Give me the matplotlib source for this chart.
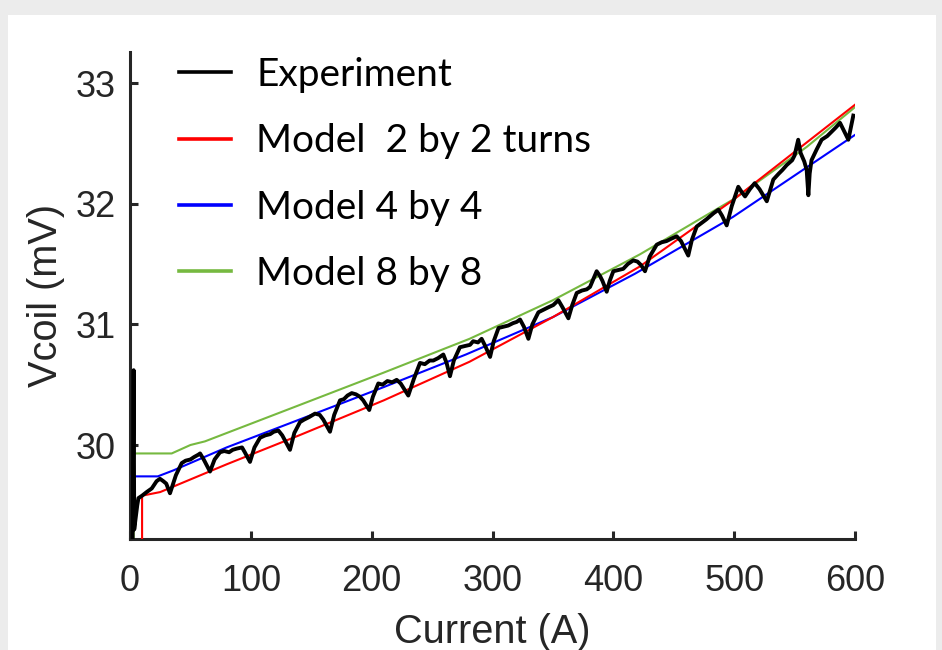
import matplotlib
matplotlib.use("Agg")
import matplotlib.pyplot as plt
from matplotlib.patches import Rectangle

# ---------------- data ----------------
exp_current = [2, 3, 3.5, 6, 7, 10, 13.8, 18, 22, 24.8, 27.6, 30, 33.1, 38, 42.8, 46, 50, 53, 56.6, 58,
               61, 66.2, 70, 74.5, 78, 82, 85, 88.3, 92.7, 95, 99.3, 103, 107.6, 112, 116, 119, 122.8,
               126, 132.4, 136, 140.7, 144, 148, 153.1, 157, 160, 165.5, 169, 173.8, 177, 180, 183.5,
               187, 190.3, 193, 198, 201, 205.5, 209, 213, 217, 220.7, 224, 230.3, 235, 240, 244, 248,
               251, 255, 259.3, 262, 264.8, 268, 273, 277, 281.4, 284, 288, 291, 294, 298, 301, 305,
               309, 313, 317, 320, 322.8, 326, 329.7, 333, 338, 342, 346, 350.3, 354.5, 358, 362.8,
               366, 369.7, 374, 378, 380.7, 386.2, 389, 391, 394.5, 397, 400, 404, 408.2, 412, 416.5,
               420, 423, 426.2, 430, 435.9, 440, 444, 448, 452.4, 456, 462, 465, 469, 473, 477, 482.8,
               487, 490, 493.8, 498, 503.4, 506, 509, 513, 517, 521, 527, 532.4, 537, 540, 543.5, 548,
               550, 553, 555, 558, 560, 561.4, 562.5, 564, 568.3, 572.4, 577, 581, 584, 587.6, 591,
               594.5, 597, 598.6]
exp_voltage = [29.0, 30.62, 29.3, 29.50, 29.56, 29.58, 29.61, 29.64, 29.70, 29.72, 29.70, 29.68, 29.60,
               29.75, 29.85, 29.87, 29.88, 29.90, 29.92, 29.93, 29.88, 29.78, 29.88, 29.94, 29.95, 29.94,
               29.96, 29.97, 29.98, 29.94, 29.86, 29.98, 30.06, 30.08, 30.09, 30.11, 30.12, 30.08, 29.96,
               30.10, 30.19, 30.21, 30.23, 30.26, 30.25, 30.21, 30.11, 30.25, 30.37, 30.38, 30.41, 30.43,
               30.42, 30.40, 30.37, 30.29, 30.40, 30.51, 30.50, 30.53, 30.52, 30.54, 30.51, 30.41, 30.55,
               30.68, 30.67, 30.70, 30.70, 30.72, 30.75, 30.68, 30.57, 30.70, 30.81, 30.82, 30.83, 30.86,
               30.85, 30.88, 30.82, 30.73, 30.86, 30.97, 30.98, 30.99, 31.01, 31.02, 31.04, 30.98, 30.88,
               31.00, 31.10, 31.12, 31.14, 31.16, 31.20, 31.14, 31.05, 31.16, 31.26, 31.28, 31.29, 31.31,
               31.44, 31.40, 31.36, 31.27, 31.36, 31.44, 31.45, 31.46, 31.50, 31.53, 31.52, 31.49, 31.44,
               31.56, 31.66, 31.68, 31.69, 31.71, 31.73, 31.69, 31.57, 31.70, 31.81, 31.84, 31.87, 31.92,
               31.95, 31.90, 31.82, 31.98, 32.14, 32.10, 32.06, 32.12, 32.17, 32.12, 32.02, 32.20, 32.25,
               32.28, 32.32, 32.36, 32.40, 32.53, 32.42, 32.35, 32.28, 32.07, 32.25, 32.36, 32.45, 32.53,
               32.56, 32.60, 32.63, 32.67, 32.60, 32.53, 32.65, 32.73]

red_current = [10, 10, 25, 80, 140, 210, 281, 350, 422, 499, 600]
red_voltage = [29.0, 29.58, 29.61, 29.84, 30.08, 30.37, 30.69, 31.06, 31.48, 32.03, 32.82]

blue_current = [1.5, 23, 36, 80, 140, 210, 278, 350, 418, 499, 600]
blue_voltage = [29.74, 29.74, 29.79, 29.98, 30.21, 30.48, 30.75, 31.06, 31.42, 31.89, 32.57]

green_current = [3, 3, 34.5, 50, 62, 140, 210, 281, 350, 422, 500, 560, 600]
green_voltage = [29.0, 29.93, 29.93, 30.00, 30.03, 30.33, 30.60, 30.88, 31.20, 31.58, 32.04, 32.47, 32.80]

labels = ["Experiment", "Model  2 by 2 turns", "Model 4 by 4", "Model 8 by 8"]
x_ticks = [0, 100, 200, 300, 400, 500, 600]
y_ticks = [30, 31, 32, 33]

# ---------------- figure ----------------
W, H = 942, 650
fig = plt.figure(figsize=(W / 100, H / 100), dpi=100, facecolor="#ececec")
bg = Rectangle((8 / W, 0), (936 - 8) / W, (H - 15) / H,
               transform=fig.transFigure, facecolor="white", edgecolor="none", zorder=-10)
fig.patches.append(bg)

ax = fig.add_axes([130 / W, (H - 539) / H, (855 - 130) / W, (539 - 52) / H])
ax.set_zorder(1)
ax.set_facecolor("white")

l_g, = ax.plot(green_current, green_voltage, color="#76b940", lw=1.5, zorder=2)
l_b, = ax.plot(blue_current, blue_voltage, color="#0000ff", lw=1.5, zorder=3)
l_r, = ax.plot(red_current, red_voltage, color="#ff0000", lw=1.5, zorder=4)
l_e, = ax.plot(exp_current, exp_voltage, color="black", lw=2.8, zorder=5,
               solid_joinstyle="round")

ax.set_xlim(0, 600)
ax.set_ylim(29.221, 33.257)
ax.set_xticks(x_ticks)
ax.set_yticks(y_ticks)

for s in ["top", "right"]:
    ax.spines[s].set_visible(False)
for s in ["left", "bottom"]:
    ax.spines[s].set_linewidth(2.2)
    ax.spines[s].set_color("#262626")

ax.tick_params(direction="in", length=6, width=2.2, color="#262626",
               labelcolor="#262626", labelsize=26)
ax.tick_params(axis="x", pad=18)
ax.tick_params(axis="y", pad=10)
for t in ax.get_xticklabels() + ax.get_yticklabels():
    t.set_fontfamily("Liberation Sans")

ax.set_xlabel("Current (A)", fontsize=28.6, color="#262626", family="Liberation Sans", labelpad=10)
ax.set_ylabel("Vcoil (mV)", fontsize=28.6, color="#262626", family="Liberation Sans", labelpad=8)

leg = ax.legend([l_e, l_r, l_b, l_g], labels, loc="upper left",
                bbox_to_anchor=(179 / W, (H - 57) / H), bbox_transform=fig.transFigure,
                frameon=False, prop={"family": "Lato", "size": 28},
                handlelength=1.34, handletextpad=0.64, labelspacing=0.78,
                borderaxespad=0, borderpad=0)
for ln in leg.get_lines():
    ln.set_linewidth(2.6)

fig.savefig("out.png", dpi=100, facecolor=fig.get_facecolor())
